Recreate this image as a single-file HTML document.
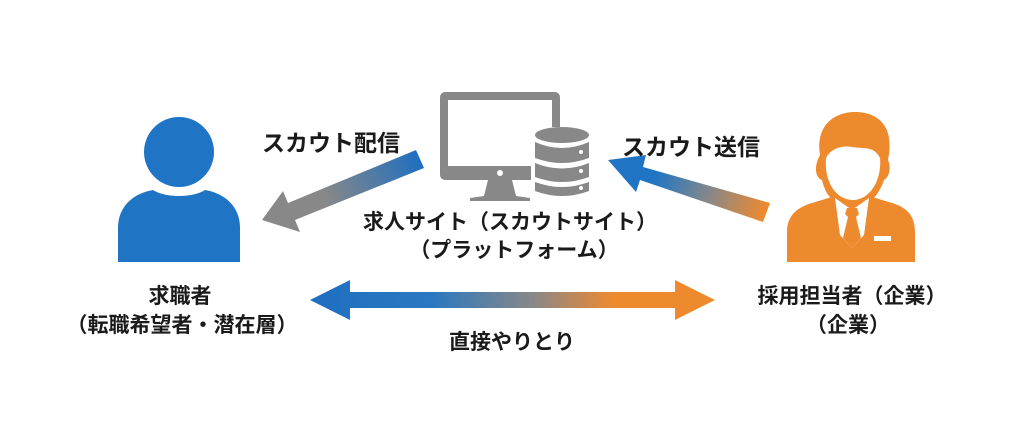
<!DOCTYPE html>
<html><head><meta charset="utf-8"><style>
html,body{margin:0;padding:0;background:#fff;}
body{width:1024px;height:434px;position:relative;overflow:hidden;font-family:"Liberation Sans","Noto Sans CJK JP",sans-serif;font-weight:bold;color:#1a1a1a;}
.t{position:absolute;white-space:nowrap;font-size:21px;line-height:1;}
.c{transform:translateX(-50%);}
</style></head><body>
<svg width="1024" height="434" style="position:absolute;left:0;top:0">
<defs>
<linearGradient id="g1" x1="420" y1="160" x2="262" y2="222" gradientUnits="userSpaceOnUse"><stop offset="0" stop-color="#1f6fbf"/><stop offset="0.6" stop-color="#888"/><stop offset="1" stop-color="#888"/></linearGradient>
<linearGradient id="g2" x1="765" y1="212" x2="608" y2="160" gradientUnits="userSpaceOnUse"><stop offset="0" stop-color="#ee8a2e"/><stop offset="0.35" stop-color="#888"/><stop offset="0.7" stop-color="#1f75c4"/><stop offset="1" stop-color="#1f75c4"/></linearGradient>
<linearGradient id="g3" x1="310" y1="0" x2="715" y2="0" gradientUnits="userSpaceOnUse"><stop offset="0" stop-color="#1f6fc0"/><stop offset="0.3" stop-color="#2a78c0"/><stop offset="0.55" stop-color="#888"/><stop offset="0.75" stop-color="#ee8a2e"/><stop offset="1" stop-color="#ee8a2e"/></linearGradient>
</defs>
<!-- blue person -->
<circle cx="179" cy="152" r="35" fill="#1f75c4"/>
<path d="M118 262 V228 C118 205 135 193 153 190 C165 198 193 198 205 190 C223 193 240 205 240 228 V262 Z" fill="#1f75c4"/>
<!-- monitor -->
<rect x="440" y="92" width="120" height="88" rx="5" fill="#888"/>
<rect x="448" y="100" width="104" height="66" fill="#fff"/>
<circle cx="500" cy="173" r="3" fill="#fff"/>
<path d="M488 180 L484 196 L470 198 V201 H530 V198 L516 196 L512 180 Z" fill="#888"/>
<!-- database -->
<rect x="531" y="127" width="62" height="72" rx="12" fill="#fff"/>
<g fill="#888">
<ellipse cx="562" cy="135" rx="27" ry="8"/>
<path d="M535 142 Q562 154 589 142 V158 Q562 168 535 158 Z"/>
<path d="M535 163 Q562 174 589 163 V177 Q562 187 535 177 Z"/>
<path d="M535 182 Q562 192 589 182 V191 Q562 201 535 191 Z"/>
</g>
<g fill="#fff"><circle cx="581" cy="152" r="2"/><circle cx="581" cy="171" r="2"/><circle cx="581" cy="188" r="2"/></g>
<!-- arrow 1 -->
<polygon points="416,150 424,168 295,220 300,232 262,220 283,191 288,203" fill="url(#g1)"/>
<!-- arrow 2 -->
<polygon points="770,203 763,222 640,180 636,192 608,160 646,155 643,167" fill="url(#g2)"/>
<!-- double arrow -->
<polygon points="310,300 350,280 350,292 675,292 675,280 715,300 675,320 675,308 350,308 350,320" fill="url(#g3)"/>
<!-- businessman -->
<g fill="#ee8a2e">
<path d="M820 155 C815 125 835 112 855 112 C878 112 895 126 888 160 C892 170 888 178 884 180 C878 198 866 208 852 208 C838 208 826 198 822 180 C816 178 813 168 820 155 Z"/>
<path d="M787 262 V232 C787 215 798 207 812 203 L835 196 L852 240 L869 196 L892 203 C906 207 915 215 915 232 V262 Z"/>
</g>
<path d="M826 158 C830 150 840 145 852 147 C865 149 874 146 880 158 C882 180 870 200 853 200 C836 200 824 182 826 158 Z" fill="#fff"/>
<polygon points="835,198 852,210 869,198 864,235 852,248 840,235" fill="#fff"/>
<path d="M847 208 H857 L859 214 L856 217 L861 238 L852 248 L843 238 L848 217 L845 214 Z" fill="#ee8a2e"/>
<rect x="874" y="236" width="17" height="5" fill="#fff"/>
</svg>
<div class="t" style="left:262px;top:132px;font-size:23px">スカウト配信</div>
<div class="t" style="left:622px;top:136px;font-size:23px">スカウト送信</div>
<div class="t c" style="left:510px;top:212px">求人サイト（スカウトサイト）</div>
<div class="t c" style="left:514px;top:240px">（プラットフォーム）</div>
<div class="t c" style="left:180px;top:286px">求職者</div>
<div class="t c" style="left:182px;top:315px">（転職希望者・潜在層）</div>
<div class="t c" style="left:852px;top:286px">採用担当者（企業）</div>
<div class="t c" style="left:848px;top:315px">（企業）</div>
<div class="t c" style="left:512px;top:332px">直接やりとり</div>
</body></html>
